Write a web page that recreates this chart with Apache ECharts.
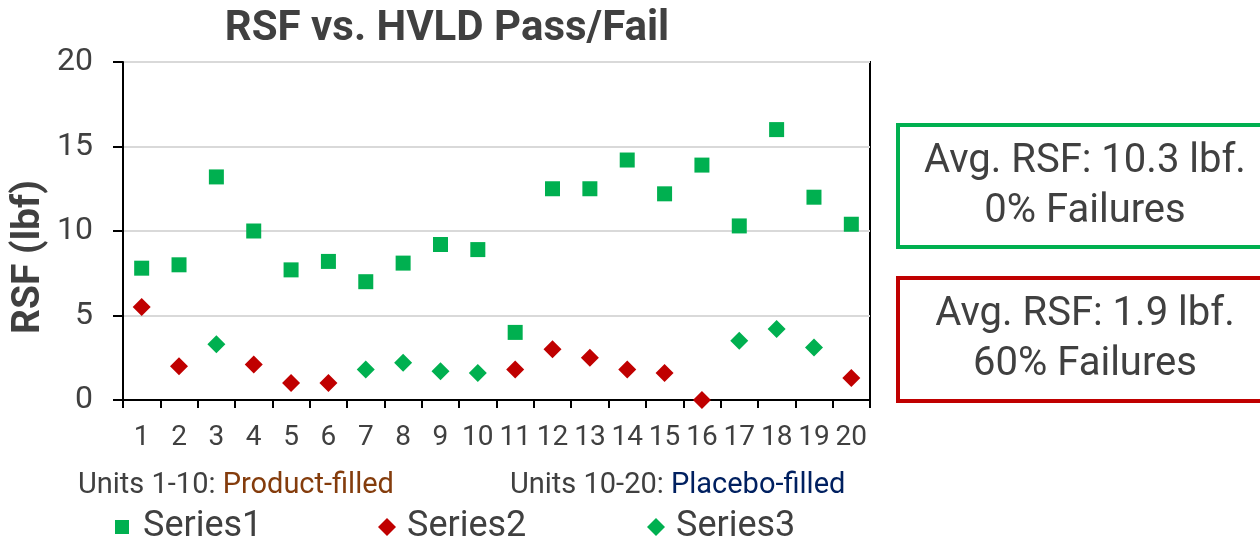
<!DOCTYPE html>
<html>
<head>
<meta charset="utf-8">
<script src="https://cdn.jsdelivr.net/npm/echarts@6/dist/echarts.min.js"></script>
<style>html,body{margin:0;padding:0;background:#fff}#c{width:1260px;height:541px}</style>
</head>
<body>
<div id="c"></div>
<script>
const categories = ['1','2','3','4','5','6','7','8','9','10','11','12','13','14','15','16','17','18','19','20'];
const series1 = [7.8, 8.0, 13.2, 10.0, 7.7, 8.2, 7.0, 8.1, 9.2, 8.9, 4.0, 12.5, 12.5, 14.2, 12.2, 13.9, 10.3, 16.0, 12.0, 10.4];
const series2 = [5.5, 2.0, null, 2.1, 1.0, 1.0, null, null, null, null, 1.8, 3.0, 2.5, 1.8, 1.6, 0.0, null, null, null, 1.3];
const series3 = [null, null, 3.3, null, null, null, 1.8, 2.2, 1.7, 1.6, null, null, null, null, null, null, 3.5, 4.2, 3.1, null];
const yTicks = [0, 5, 10, 15, 20];
const seriesNames = ['Series1', 'Series2', 'Series3'];
const titleText = 'RSF vs. HVLD Pass/Fail';
const yAxisTitle = 'RSF (lbf)';
const boxGreen = ['Avg. RSF: 10.3 lbf.', '0% Failures'];
const boxRed = ['Avg. RSF: 1.9 lbf.', '60% Failures'];

const GREEN = '#00B050', RED = '#C00000', TXT = '#404040';
const FONT = 'Roboto, "Liberation Sans", sans-serif';

const chart = echarts.init(document.getElementById('c'));
const legendBase = {
  orient: 'horizontal', top: 509, itemWidth: 16, itemHeight: 16, padding: 0,
  textStyle: { fontSize: 36, color: TXT, fontFamily: FONT, padding: [0, 0, 0, 6] }
};
chart.setOption({
  animation: false,
  backgroundColor: '#fff',
  grid: { left: 123, right: 390, top: 62, bottom: 141, show: true, borderColor: '#000', borderWidth: 2, containLabel: false },
  xAxis: {
    type: 'category', data: categories, boundaryGap: true,
    axisLine: { lineStyle: { color: '#000', width: 2 } },
    axisTick: { show: true, length: 8, lineStyle: { color: '#000', width: 2 } },
    axisLabel: { fontSize: 28, color: TXT, fontFamily: FONT, margin: 24, interval: 0 }
  },
  yAxis: {
    type: 'value', min: yTicks[0], max: yTicks[yTicks.length - 1], interval: 5,
    axisLine: { show: true, lineStyle: { color: '#000', width: 2 } },
    axisTick: { show: true, length: 10, lineStyle: { color: '#000', width: 2 } },
    axisLabel: { fontSize: 32, color: TXT, fontFamily: FONT, margin: 30 },
    splitLine: { show: true, lineStyle: { color: '#D9D9D9', width: 2 } }
  },
  legend: [
    Object.assign({}, legendBase, { left: 115, data: [{ name: seriesNames[0], icon: 'rect' }], itemWidth: 14, itemHeight: 14, textStyle: Object.assign({}, legendBase.textStyle, { padding: [0, 0, 0, 9] }) }),
    Object.assign({}, legendBase, { left: 378, data: [{ name: seriesNames[1], icon: 'diamond' }], itemWidth: 18, itemHeight: 18 }),
    Object.assign({}, legendBase, { left: 647, data: [{ name: seriesNames[2], icon: 'diamond' }], itemWidth: 18, itemHeight: 18 })
  ],
  series: [
    { name: seriesNames[0], type: 'scatter', data: series1, symbol: 'rect', symbolSize: 15, itemStyle: { color: GREEN, opacity: 1 }, clip: false, z: 5 },
    { name: seriesNames[1], type: 'scatter', data: series2, symbol: 'diamond', symbolSize: 18, itemStyle: { color: RED, opacity: 1 }, clip: false, z: 5 },
    { name: seriesNames[2], type: 'scatter', data: series3, symbol: 'diamond', symbolSize: 18, itemStyle: { color: GREEN, opacity: 1 }, clip: false, z: 5 }
  ],
  graphic: [
    { type: 'text', x: 447, y: 29, style: { text: titleText, fontSize: 42, fontWeight: 'bold', fill: TXT, fontFamily: FONT, align: 'center', verticalAlign: 'middle' } },
    { type: 'text', x: 29, y: 257, rotation: Math.PI / 2, style: { text: yAxisTitle, fontSize: 39, fontWeight: 'bold', fill: TXT, fontFamily: FONT, align: 'center', verticalAlign: 'middle' } },
    { type: 'text', x: 78, y: 486, style: { text: '{a|Units 1-10: }{b|Product-filled}', fontSize: 29, fontFamily: FONT, verticalAlign: 'middle', rich: { a: { fill: TXT, fontSize: 29, fontFamily: FONT }, b: { fill: '#843C0C', fontSize: 29, fontFamily: FONT } } } },
    { type: 'text', x: 510, y: 486, style: { text: '{a|Units 10-20: }{b|Placebo-filled}', fontSize: 29, fontFamily: FONT, verticalAlign: 'middle', rich: { a: { fill: TXT, fontSize: 29, fontFamily: FONT }, b: { fill: '#002060', fontSize: 29, fontFamily: FONT } } } },
    { type: 'rect', shape: { x: 898, y: 125, width: 420, height: 122 }, style: { fill: '#fff', stroke: GREEN, lineWidth: 4 } },
    { type: 'text', x: 1085, y: 187, style: { text: boxGreen.join('\n'), fontSize: 40, lineHeight: 50, fill: TXT, fontFamily: FONT, align: 'center', verticalAlign: 'middle' } },
    { type: 'rect', shape: { x: 898, y: 278, width: 420, height: 123 }, style: { fill: '#fff', stroke: RED, lineWidth: 4 } },
    { type: 'text', x: 1085, y: 340, style: { text: boxRed.join('\n'), fontSize: 40, lineHeight: 50, fill: TXT, fontFamily: FONT, align: 'center', verticalAlign: 'middle' } }
  ]
});
</script>
</body>
</html>
